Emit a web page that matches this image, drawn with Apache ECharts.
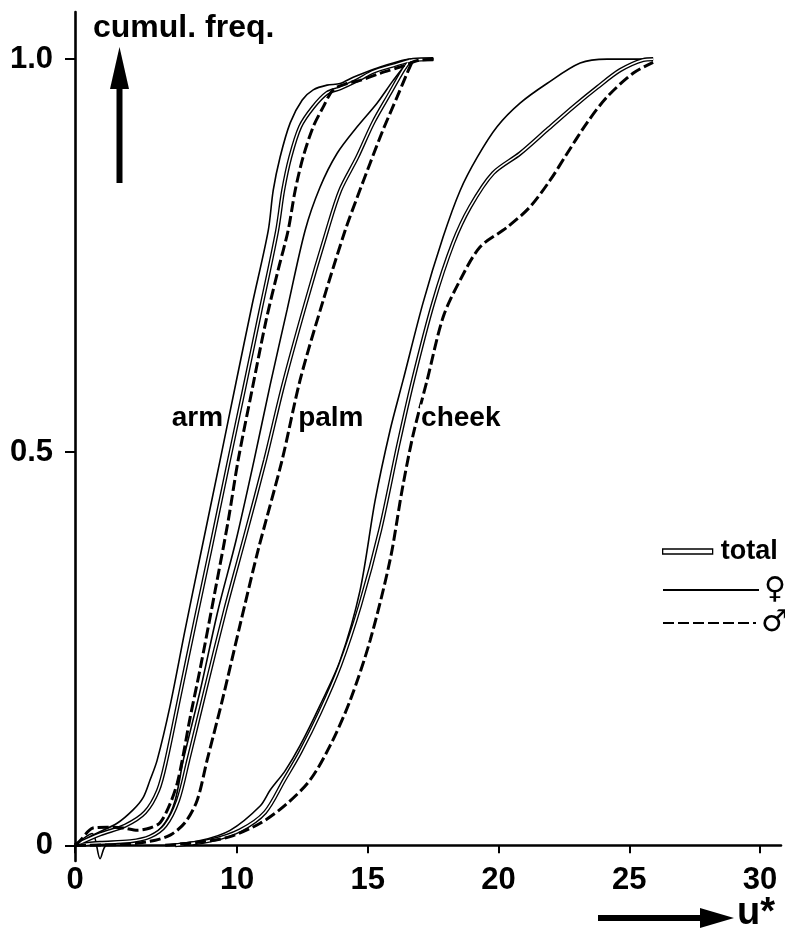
<!DOCTYPE html>
<html>
<head>
<meta charset="utf-8">
<script src="https://cdn.jsdelivr.net/npm/echarts@6/dist/echarts.min.js"></script>
<style>
html,body{margin:0;padding:0;background:#fff;}
#chart{width:785px;height:929px;}
</style>
</head>
<body>
<div id="chart"></div>
<script>
// ---------- data (u*, cumulative frequency) ----------
const xTicks = [3.8, 10, 15, 20, 25, 30];
const xTickText = ['0', '10', '15', '20', '25', '30'];
const yTicks = [0, 0.5, 1];
const yTickText = ['0', '0.5', '1.0'];

const groupNames = ['total', '\u2640', '\u2642'];
const siteNames = ['arm', 'palm', 'cheek'];
const siteLabelPos = [[9.58, 0.543], [12.22, 0.543], [16.92, 0.543]];

const armF = [[3.8,0],[4.49,0.013],[5.41,0.028],[6.02,0.045],[6.41,0.061],[6.67,0.083],[6.94,0.108],[7.44,0.178],[8.01,0.274],[8.59,0.368],[9.35,0.49],[9.96,0.589],[10.57,0.687],[11.19,0.782],[11.38,0.833],[11.64,0.875],[12.03,0.919],[12.49,0.948],[12.91,0.961],[13.44,0.967],[13.94,0.969],[14.44,0.977],[14.97,0.984],[15.47,0.99],[15.97,0.995],[16.62,1.0],[17.5,1.0]];
const armT = [[3.8,0],[4.76,0.014],[5.72,0.025],[6.48,0.042],[6.98,0.07],[7.29,0.108],[7.82,0.193],[8.39,0.284],[8.97,0.375],[9.69,0.49],[10.27,0.581],[10.88,0.678],[11.53,0.782],[11.76,0.833],[12.03,0.875],[12.41,0.914],[12.91,0.939],[13.44,0.957],[13.94,0.963],[14.59,0.973],[15.2,0.984],[15.97,0.992],[16.73,0.999],[17.5,1.0]];
const armM = [[3.8,0],[4.0,0.006],[4.49,0.022],[5.03,0.023],[5.64,0.022],[6.18,0.019],[6.67,0.022],[7.06,0.029],[7.44,0.053],[7.71,0.079],[7.9,0.108],[8.2,0.162],[8.59,0.225],[9.16,0.324],[9.66,0.413],[10.04,0.49],[10.57,0.579],[11.11,0.668],[11.57,0.732],[11.95,0.782],[12.22,0.833],[12.52,0.875],[12.91,0.914],[13.29,0.939],[13.67,0.961],[14.21,0.969],[14.7,0.973],[15.47,0.982],[16.23,0.99],[17.0,0.999],[17.57,1.0]];

const palmF = [[3.8,0],[4.46,0.015],[4.76,-0.017],[4.99,0],[5.91,0.005],[6.67,0.011],[7.25,0.029],[7.63,0.057],[7.94,0.108],[8.59,0.197],[9.27,0.299],[9.96,0.388],[10.65,0.49],[11.26,0.585],[11.91,0.681],[12.6,0.782],[13.17,0.837],[13.82,0.88],[14.59,0.914],[15.35,0.944],[15.97,0.973],[16.5,0.995],[16.73,1.0]];
const palmT = [[3.8,0],[4.76,0.003],[5.91,0.005],[6.67,0.011],[7.25,0.025],[7.74,0.057],[8.13,0.108],[8.78,0.197],[9.54,0.299],[10.31,0.394],[11.07,0.49],[11.76,0.585],[12.6,0.687],[13.44,0.782],[13.94,0.833],[14.59,0.875],[15.2,0.919],[15.85,0.957],[16.35,0.986],[16.62,0.999]];
const palmM = [[3.8,0],[5.53,0.001],[6.67,0.005],[7.44,0.013],[8.01,0.029],[8.47,0.057],[8.85,0.108],[9.43,0.184],[10.11,0.28],[10.8,0.375],[11.72,0.49],[12.41,0.592],[13.29,0.693],[14.13,0.782],[14.59,0.824],[15.09,0.868],[15.58,0.91],[16.12,0.952],[16.5,0.982],[16.73,0.999]];

const cheekF = [[7.25,0],[8.59,0.006],[9.73,0.019],[10.88,0.05],[11.26,0.07],[11.84,0.095],[12.41,0.127],[13.17,0.178],[13.94,0.235],[14.7,0.324],[15.28,0.439],[15.85,0.528],[16.35,0.592],[17.11,0.69],[17.88,0.774],[18.53,0.833],[19.18,0.875],[19.94,0.914],[20.82,0.944],[21.85,0.969],[23.12,0.995],[24.15,1.0],[25.3,1.0],[25.91,1.0]];
const cheekT = [[7.63,0],[8.97,0.006],[10.11,0.019],[11.07,0.042],[11.8,0.083],[12.41,0.118],[13.17,0.169],[13.94,0.229],[14.7,0.305],[15.47,0.401],[16.16,0.509],[16.73,0.592],[17.5,0.69],[18.26,0.766],[18.91,0.812],[19.79,0.855],[20.82,0.88],[21.85,0.91],[22.85,0.939],[23.77,0.964],[24.65,0.986],[25.53,0.999],[25.91,1.0]];
const cheekM = [[7.25,0],[8.59,0.004],[9.73,0.011],[10.88,0.028],[11.84,0.051],[12.79,0.083],[13.56,0.127],[14.32,0.184],[15.09,0.261],[15.85,0.363],[16.31,0.452],[16.73,0.522],[17.27,0.592],[17.88,0.672],[18.53,0.719],[19.29,0.761],[20.32,0.786],[21.2,0.812],[21.97,0.846],[22.62,0.88],[23.38,0.919],[24.15,0.952],[25.14,0.982],[25.91,0.996]];

const siteTotal = [armT, palmT, cheekT];
const siteFemale = [armF, palmF, cheekF];
const siteMale = [armM, palmM, cheekM];

// ---------- chart ----------
const FONT = 'Liberation Sans';
const chart = echarts.init(document.getElementById('chart'), null, {renderer: 'canvas'});

function nearestText(v, ticks, texts) {
  let best = 0;
  for (let i = 1; i < ticks.length; i++) {
    if (Math.abs(ticks[i] - v) < Math.abs(ticks[best] - v)) best = i;
  }
  return texts[best];
}

const series = [];
for (let i = 0; i < siteNames.length; i++) {
  series.push({
    name: groupNames[1], type: 'line', data: siteFemale[i], showSymbol: false, symbol: 'none',
    smooth: 0.3, lineStyle: {color: '#000', width: 1.6}, z: 2, silent: true
  });
  series.push({
    name: groupNames[0], type: 'line', data: siteTotal[i], showSymbol: false, symbol: 'none',
    smooth: 0.3, lineStyle: {color: '#000', width: 4.2}, z: 3, silent: true
  });
  series.push({
    name: 'total-core', type: 'line', data: siteTotal[i], showSymbol: false, symbol: 'none',
    smooth: 0.3, lineStyle: {color: '#fff', width: 1.5}, z: 4, silent: true
  });
  series.push({
    name: groupNames[2], type: 'line', data: siteMale[i], showSymbol: false, symbol: 'none',
    smooth: 0.3, lineStyle: {color: '#000', width: 3, type: [11, 4]}, z: 5, silent: true
  });
}
series.push({
  name: 'site', type: 'scatter', symbolSize: 0, silent: true, z: 6,
  itemStyle: {opacity: 1, color: '#000'},
  data: siteLabelPos.map((p, i) => ({
    value: p,
    label: {
      show: true, formatter: siteNames[i], position: i === 0 ? 'left' : 'right', distance: 2,
      fontFamily: FONT, fontWeight: 'bold', fontSize: 28, color: '#000', opacity: 1,
      backgroundColor: '#fff', padding: [0, 1, 0, 1]
    }
  }))
});

const legendText = {fontFamily: FONT, fontWeight: 'bold', fontSize: 27, color: '#000'};
const symText = {fontFamily: 'DejaVu Sans', fontWeight: 'bold', fontSize: 30, color: '#000'};

const option = {
  backgroundColor: '#fff',
  animation: false,
  grid: {left: 75, right: 4, top: 12, bottom: 68, containLabel: false, outerBoundsMode: 'none'},
  xAxis: {
    type: 'value', min: 3.8, max: 30.8,
    name: 'u*', nameLocation: 'end', nameGap: -44, nameMoveOverlap: false,
    nameTextStyle: {fontFamily: FONT, fontWeight: 'bold', fontSize: 38, color: '#000',
      align: 'left', verticalAlign: 'top', padding: [49, 0, 0, 0]},
    axisLine: {onZero: true, lineStyle: {color: '#000', width: 2.6}},
    axisTick: {show: true, customValues: xTicks, length: 8, lineStyle: {color: '#000', width: 2}},
    axisLabel: {customValues: xTicks, margin: 4, fontFamily: FONT, fontWeight: 'bold', fontSize: 31, color: '#000',
      formatter: v => nearestText(v, xTicks, xTickText)},
    splitLine: {show: false}
  },
  yAxis: {
    type: 'value', min: -0.02, max: 1.06,
    name: 'cumul. freq.', nameLocation: 'end', nameGap: 0,
    nameTextStyle: {fontFamily: FONT, fontWeight: 'bold', fontSize: 32, color: '#000',
      align: 'left', verticalAlign: 'top', padding: [0, 0, 0, 18]},
    axisLine: {onZero: false, lineStyle: {color: '#000', width: 2.6}},
    axisTick: {show: true, customValues: yTicks, length: 10, lineStyle: {color: '#000', width: 2}},
    axisLabel: {customValues: yTicks, margin: 22, fontFamily: FONT, fontWeight: 'bold', fontSize: 31, color: '#000',
      formatter: v => nearestText(v, yTicks, yTickText)},
    splitLine: {show: false}
  },
  legend: [
    {data: [groupNames[0]], left: 662, top: 538, padding: 0, orient: 'vertical', selectedMode: false,
      icon: 'rect', itemWidth: 50, itemHeight: 5,
      itemStyle: {color: '#fff', borderColor: '#000', borderWidth: 1.3},
      textStyle: Object.assign({padding: [0, 0, 0, 3]}, legendText)},
    {data: [groupNames[1]], left: 662, top: 575, padding: 0, orient: 'vertical', selectedMode: false,
      itemWidth: 96, itemHeight: 14, itemStyle: {opacity: 0},
      textStyle: Object.assign({padding: [0, 0, 0, 0]}, symText)},
    {data: [groupNames[2]], left: 662, top: 608, padding: 0, orient: 'vertical', selectedMode: false,
      itemWidth: 93, itemHeight: 14, itemStyle: {opacity: 0},
      textStyle: Object.assign({padding: [0, 0, 0, 0]}, symText)}
  ],
  graphic: [
    {type: 'rect', shape: {x: 116.5, y: 85, width: 6, height: 98}, style: {fill: '#000'}, silent: true},
    {type: 'polygon', shape: {points: [[119.5, 47], [110, 89], [129, 89]]}, style: {fill: '#000'}, silent: true},
    {type: 'rect', shape: {x: 598, y: 915, width: 104, height: 6}, style: {fill: '#000'}, silent: true},
    {type: 'polygon', shape: {points: [[700, 908], [734, 918], [700, 928]]}, style: {fill: '#000'}, silent: true}
  ],
  series: series
};
chart.setOption(option);
</script>
</body>
</html>
